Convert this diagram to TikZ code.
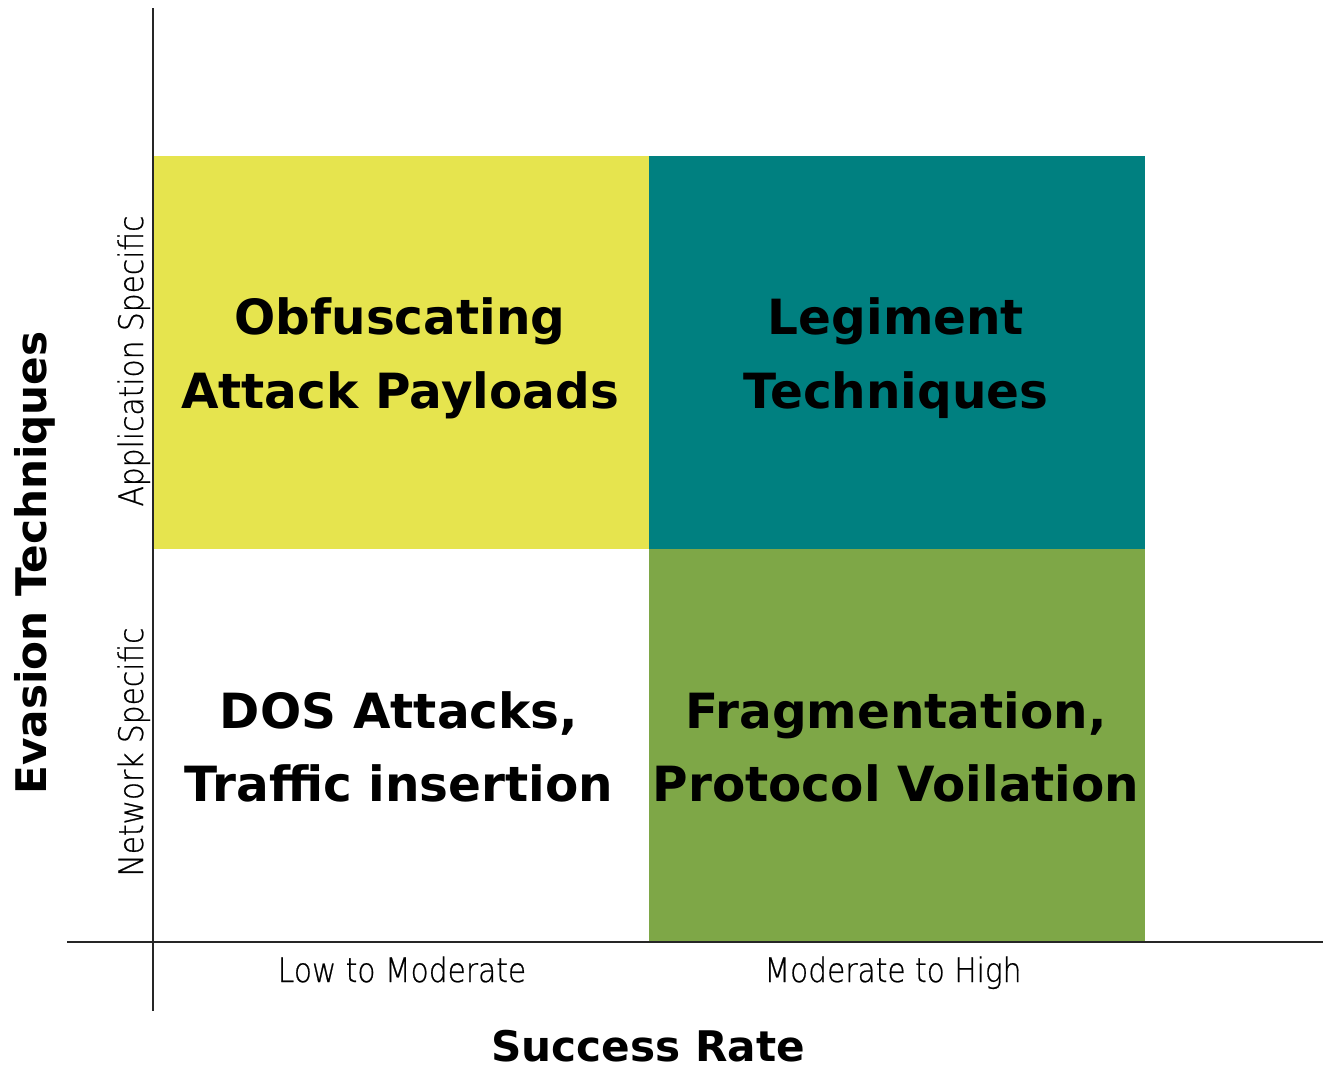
\documentclass[tikz,border=0pt]{standalone}
\usepackage{fontspec}
\setmainfont{DejaVu Sans}
\newfontfamily\thinfont[FakeStretch=0.88,FakeBold=0.6]{DejaVu Sans ExtraLight}

\definecolor{appyellow}{RGB}{230,228,78}
\definecolor{legteal}{RGB}{0,128,128}
\definecolor{fraggreen}{RGB}{126,167,71}

\begin{document}
\begin{tikzpicture}[x=0.2mm, y=-0.2mm,
    cell/.style={minimum width=99.2mm, minimum height=78.6mm, inner sep=0pt},
    celltext/.style={inner sep=0pt, align=center, font=\bfseries\fontsize{27.6}{42}\selectfont},
    ticklabel/.style={anchor=base, inner sep=0pt, font=\thinfont\fontsize{19.2}{22}\selectfont},
    axislabel/.style={inner sep=0pt, font=\bfseries\fontsize{24}{28}\selectfont},
    axis/.style={line width=1.1pt, black!85}]
    \useasboundingbox (0,0) rectangle (1323,1066);
    % the four quadrants
    \node[cell, fill=appyellow] (obf) at (401,352.5) {};
    \node[cell, fill=legteal] (leg) at (896.5,352.5) {};
    \node[cell] (dos) at (401,745.5) {};
    \node[cell, fill=fraggreen] (frag) at (896.5,745.5) {};
    \node[celltext] (obftext) at (400,358) {Obfuscating\\Attack Payloads};
    \node[celltext] (legtext) at (896,358) {Legiment\\Techniques};
    \node[celltext] (dostext) at (399,747) {DOS Attacks,\\Traffic insertion};
    \node[celltext] (fragtext) at (896,747) {Fragmentation,\\Protocol Voilation};
    % axes
    \coordinate (ytop) at (153,8);
    \coordinate (ybot) at (153,1011);
    \coordinate (xleft) at (67,942);
    \coordinate (xright) at (1323,942);
    \draw[axis] (ytop) -- (ybot);
    \draw[axis] (xleft) -- (xright);
    % tick labels
    \node[ticklabel, rotate=90] (app) at (143,361) {Application Specific};
    \node[ticklabel, rotate=90] (net) at (143,752) {Network Specific};
    \node[ticklabel] (low) at (402,982) {Low to Moderate};
    \node[ticklabel] (high) at (893,982) {Moderate to High};
    % axis titles
    \node[axislabel, anchor=base] (xtitle) at (648,1061) {Success Rate};
    \node[axislabel, rotate=90] (ytitle) at (35,563) {Evasion Techniques};
\end{tikzpicture}
\end{document}
